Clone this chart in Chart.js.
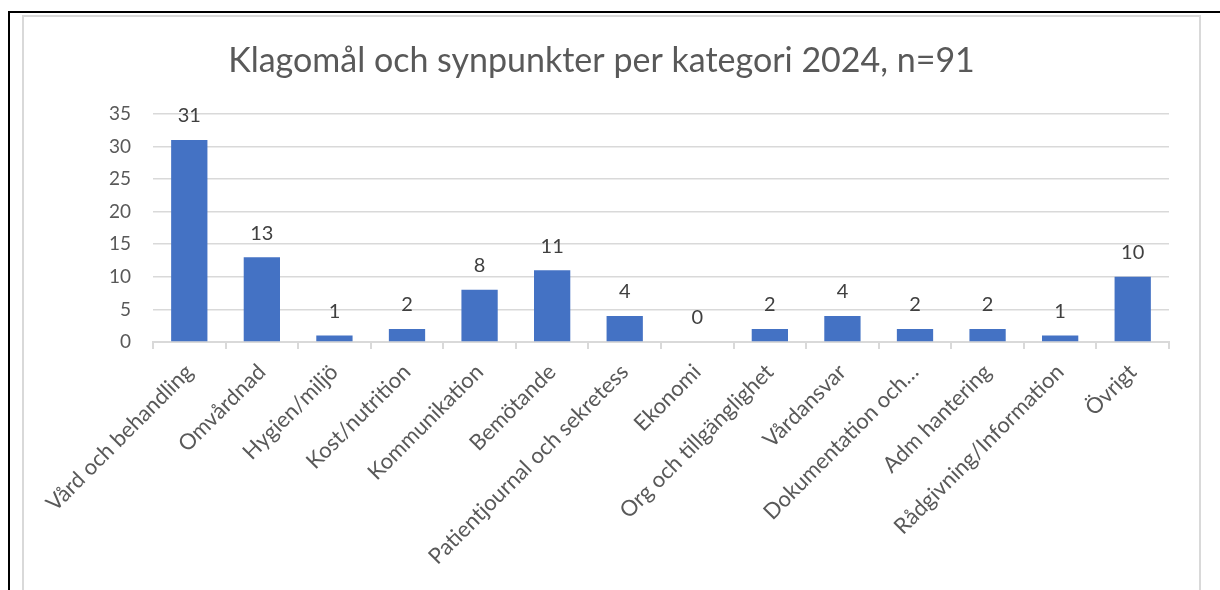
<!DOCTYPE html>
<html>
<head>
<meta charset="utf-8">
<script src="https://cdn.jsdelivr.net/npm/chart.js@4.4.1/dist/chart.umd.min.js"></script>
<style>
  html, body { margin: 0; padding: 0; background: #fff; overflow: hidden; }
  #outer { position: absolute; left: 8px; top: 11px; width: 1300px; height: 700px;
           border-top: 2px solid #000; border-left: 2px solid #000; }
  #frame { position: absolute; left: 22px; top: 15px; width: 1175px; height: 700px;
           border: 2px solid #d9d9d9; }
  #wrap { position: absolute; left: 0; top: 0; width: 1220px; height: 590px; }
</style>
</head>
<body>
<div id="outer"></div>
<div id="frame"></div>
<div id="wrap"><canvas id="chart"></canvas></div>
<script>
const categories = [
  'Vård och behandling', 'Omvårdnad', 'Hygien/miljö', 'Kost/nutrition',
  'Kommunikation', 'Bemötande', 'Patientjournal och sekretess', 'Ekonomi',
  'Org och tillgänglighet', 'Vårdansvar', 'Dokumentation och…',
  'Adm hantering', 'Rådgivning/Information', 'Övrigt'
];
const counts = [31, 13, 1, 2, 8, 11, 4, 0, 2, 4, 2, 2, 1, 10];
const yTicks = [0, 5, 10, 15, 20, 25, 30, 35];
const titleText = 'Klagomål och synpunkter per kategori 2024, n=91';

const fontFamily = 'Lato, "Open Sans", sans-serif';

// numbers above the bars
const valueLabels = {
  id: 'valueLabels',
  afterDatasetsDraw(chart) {
    const ctx = chart.ctx;
    const meta = chart.getDatasetMeta(0);
    ctx.save();
    ctx.font = '20px ' + fontFamily;
    ctx.fillStyle = '#404040';
    ctx.textAlign = 'center';
    ctx.textBaseline = 'middle';
    meta.data.forEach(function (bar, i) {
      ctx.fillText(String(counts[i]), bar.x, bar.y - 24);
    });
    ctx.restore();
  }
};

new Chart(document.getElementById('chart'), {
  type: 'bar',
  data: {
    labels: categories,
    datasets: [{
      data: counts,
      backgroundColor: '#4472C4',
      categoryPercentage: 1,
      barPercentage: 0.5
    }]
  },
  options: {
    responsive: true,
    maintainAspectRatio: false,
    animation: false,
    layout: { padding: { left: 34, right: 51, top: 0, bottom: 0 } },
    plugins: {
      legend: { display: false },
      tooltip: { enabled: false },
      title: {
        display: true,
        text: titleText,
        color: '#595959',
        font: { family: fontFamily, size: 34, weight: 'normal' },
        padding: { top: 41, bottom: 32 }
      }
    },
    scales: {
      x: {
        grid: {
          display: true,
          offset: true,
          drawOnChartArea: false,
          drawTicks: true,
          tickLength: 7,
          color: '#d9d9d9',
          lineWidth: 2
        },
        border: { display: true, color: '#d9d9d9', width: 2 },
        ticks: {
          color: '#595959',
          font: { family: fontFamily, size: 22 },
          maxRotation: 45,
          minRotation: 45,
          autoSkip: false,
          padding: 10
        },
        afterFit: function (scale) { scale.height = 248; }
      },
      y: {
        min: 0,
        max: 35,
        afterBuildTicks: function (scale) {
          scale.ticks = yTicks.map(function (v) { return { value: v }; });
        },
        grid: { color: '#d9d9d9', lineWidth: 1.5, drawTicks: false },
        border: { display: false },
        ticks: {
          color: '#595959',
          font: { family: fontFamily, size: 19 },
          padding: 22
        },
        afterFit: function (scale) { scale.width = 119; }
      }
    }
  },
  plugins: [valueLabels]
});
</script>
</body>
</html>
